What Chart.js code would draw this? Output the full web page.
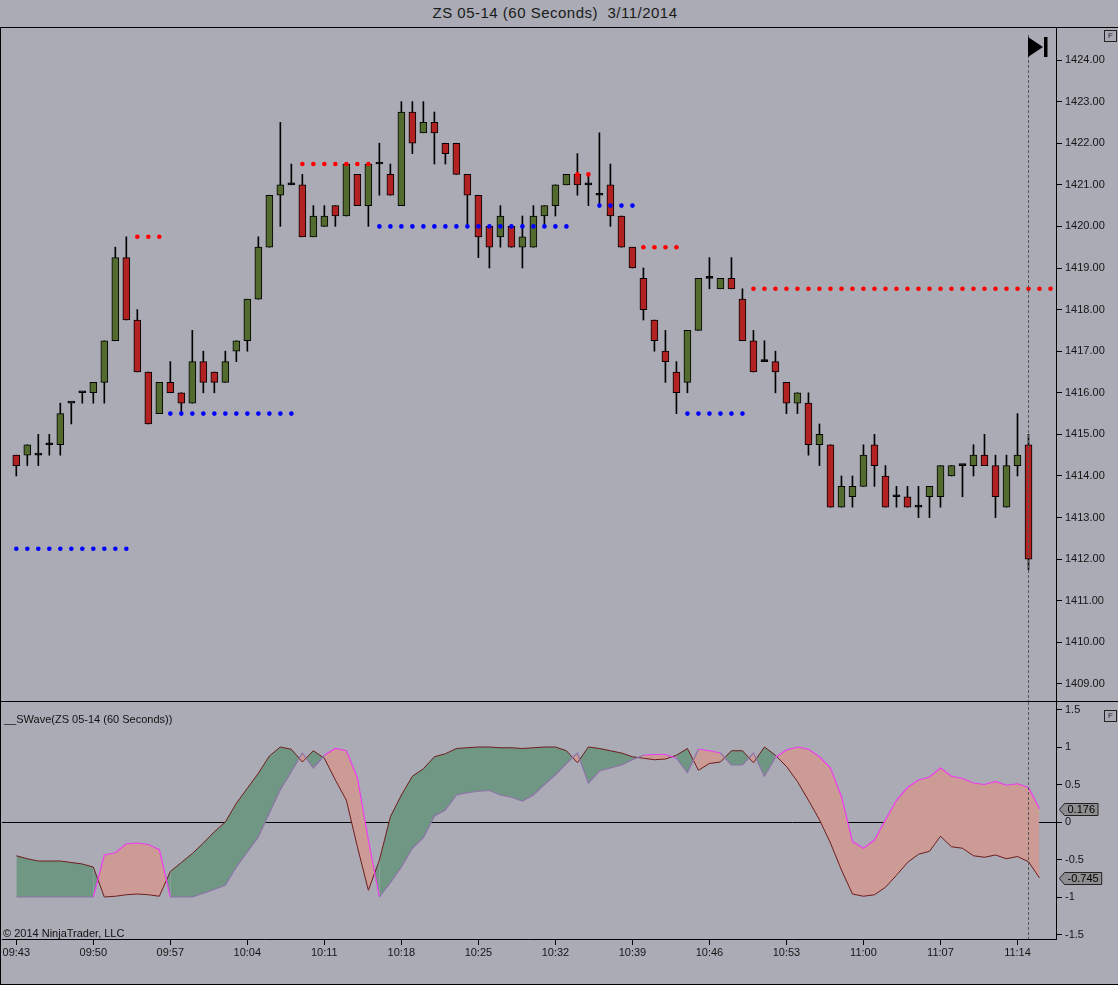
<!DOCTYPE html>
<html><head><meta charset="utf-8">
<script src="https://cdn.jsdelivr.net/npm/chart.js@4.4.1/dist/chart.umd.min.js"></script>
<style>
 html,body{margin:0;padding:0;}
 body{width:1118px;height:985px;background:#aaabb5;position:relative;overflow:hidden;font-family:"Liberation Sans",Arial,sans-serif;}
 .abs{position:absolute;}
 #title{left:0;top:4px;width:1110px;text-align:center;font-size:15px;letter-spacing:0.5px;color:#1a1a1a;white-space:pre;}
 #frame{left:0;top:27px;width:1118px;height:958px;border-left:1px solid #000;border-top:1px solid #000;border-bottom:1px solid #000;box-sizing:border-box;}
 #sep{left:0;top:701px;width:1118px;height:1px;background:#000;}
 .fbox{width:11px;height:10px;border:1px solid #222;font-size:8px;line-height:10px;text-align:center;color:#222;}
 .lbl{font-size:11px;color:#111;white-space:pre;}
</style></head><body>
<div id="title" class="abs">ZS 05-14 (60 Seconds)  3/11/2014</div>
<div id="frame" class="abs"></div>
<canvas id="c1" class="abs" style="left:0;top:27px;width:1118px;height:675px" width="1118" height="675"></canvas>
<canvas id="c2" class="abs" style="left:0;top:701px;width:1118px;height:284px" width="1118" height="284"></canvas>
<div id="sep" class="abs"></div>
<div class="abs fbox" style="left:1104px;top:30px">F</div>
<div class="abs fbox" style="left:1104px;top:710px">F</div>
<div class="abs lbl" style="left:4px;top:713px">__SWave(ZS 05-14 (60 Seconds))</div>
<div class="abs lbl" style="left:3px;top:927px">© 2014 NinjaTrader, LLC</div>
<script>
// ---- Data ----
const opens  = [1414.5,1414.5,1414.5,1414.75,1414.75,1415.75,1416,1416,1416.25,1417.25,1419.25,1417.75,1416.5,1415.5,1416.25,1416,1415.75,1416.75,1416.5,1416.25,1417,1417.25,1418.25,1419.5,1420.75,1421,1421,1419.75,1420,1420.5,1420.25,1421.25,1420.5,1421.5,1421.25,1420.5,1422.75,1422.25,1422.5,1422,1422,1421.25,1420.75,1420,1419.75,1420,1419.5,1419.5,1420.25,1420.5,1421,1421.25,1421,1420.75,1421,1420.25,1419.5,1418.75,1417.75,1417,1416.5,1416.25,1417.5,1418.75,1418.5,1418.75,1418.25,1417.25,1416.75,1416.75,1416.25,1415.75,1415.75,1414.75,1414.75,1413.25,1413.5,1413.75,1414.75,1414,1413.5,1413.5,1413.25,1413.5,1413.5,1414,1414.25,1414.25,1414.5,1414.25,1413.25,1414.25,1414.75];
const highs  = [1414.5,1414.75,1415,1415,1415.75,1415.75,1416,1416.25,1417.25,1419.5,1419.75,1418,1416.5,1416.25,1416.75,1416,1417.5,1417,1416.5,1417,1417.25,1418.25,1419.75,1420.75,1422.5,1421.5,1421.25,1420.5,1420.5,1420.5,1421.5,1421.25,1421.5,1422,1421.5,1423,1423,1423,1422.75,1422,1422,1421.25,1420.75,1420,1420.5,1420,1420.25,1420.5,1420.5,1421,1421.25,1421.75,1421.25,1422.25,1421.5,1420.25,1419.5,1419,1417.75,1417.5,1416.75,1417.5,1418.75,1419.25,1418.75,1419.25,1418.5,1417.5,1417.25,1417,1416.25,1416,1416,1415.25,1414.75,1414,1414,1414.75,1415,1414.25,1413.75,1413.75,1413.75,1413.75,1414.25,1414.25,1414.25,1414.75,1415,1414.5,1414.5,1415.5,1415];
const lows   = [1414,1414.25,1414.25,1414.5,1414.5,1415.25,1415.75,1415.75,1415.75,1417.25,1417.75,1416.5,1415.25,1415.5,1416,1415.5,1415.75,1416,1416,1416.25,1416.75,1417,1418.25,1419.5,1420,1421,1419.75,1419.75,1420,1420,1420.25,1420.5,1420,1420.75,1420.75,1420.5,1421.75,1422.25,1421.5,1421.5,1421.25,1420,1419.25,1419,1419.5,1419.5,1419,1419.5,1420,1420.25,1421,1420.75,1420.5,1420.5,1420,1419.5,1419,1417.75,1417,1416.25,1415.5,1416,1417.5,1418.5,1418.5,1418.5,1417.25,1416.5,1416.75,1416,1415.5,1415.5,1414.5,1414.25,1413.25,1413.25,1413.25,1413.75,1413.75,1413.25,1413.25,1413.25,1413,1413,1413.25,1414,1413.5,1414,1414.25,1413,1413.25,1414,1411.75];
const closes = [1414.25,1414.75,1414.5,1414.75,1415.5,1415.75,1416,1416.25,1417.25,1419.25,1417.75,1416.5,1415.25,1416.25,1416,1415.75,1416.75,1416.25,1416.25,1416.75,1417.25,1418.25,1419.5,1420.75,1421,1421,1419.75,1420.25,1420.25,1420.25,1421.5,1420.5,1421.5,1421.5,1420.75,1422.75,1422,1422.5,1422.25,1421.75,1421.25,1420.75,1419.75,1419.5,1420.25,1419.5,1419.75,1420.25,1420.5,1421,1421.25,1421,1421,1420.75,1420.25,1419.5,1419,1418,1417.25,1416.75,1416,1417.5,1418.75,1418.75,1418.75,1418.5,1417.25,1416.5,1416.75,1416.5,1415.75,1416,1414.75,1415,1413.25,1413.75,1413.75,1414.5,1414.25,1413.25,1413.5,1413.25,1413.25,1413.75,1414.25,1414.25,1414.25,1414.5,1414.25,1413.5,1414.25,1414.5,1412];

const resLevels = [1419.75, 1421.5, 1421.25, 1419.5, 1418.5];
const resStart  = [11, 26, 51, 57, 67];
const resEnd    = [13, 32, 52, 60, 94];
const supLevels = [1412.25, 1415.5, 1420, 1420.5, 1415.5];
const supStart  = [0, 14, 33, 53, 61];
const supEnd    = [10, 25, 50, 56, 66];

const waveFast = [-0.45,-0.49,-0.52,-0.52,-0.52,-0.54,-0.56,-0.60,-1.0,-0.99,
 -0.97,-0.96,-0.97,-0.99,-0.66,-0.54,-0.42,-0.28,-0.13,0.0,
 0.25,0.45,0.65,0.88,1.0,0.97,0.80,0.95,0.85,0.56,
 0.29,-0.33,-0.91,-0.51,0.07,0.36,0.61,0.71,0.87,0.91,
 0.98,0.99,1.0,1.0,0.99,0.99,0.98,0.99,1.0,1.0,
 0.95,0.79,1.0,0.98,0.95,0.92,0.87,0.85,0.83,0.84,
 0.89,0.98,0.69,0.78,0.80,0.95,0.95,0.79,1.0,0.89,
 0.74,0.54,0.29,0.03,-0.28,-0.64,-0.96,-0.99,-0.97,-0.87,
 -0.71,-0.54,-0.43,-0.39,-0.19,-0.33,-0.35,-0.45,-0.47,-0.44,
 -0.49,-0.46,-0.53,-0.745];
const waveSlow = [-1,-1,-1,-1,-1,-1,-1,-1,-0.44,-0.41,
 -0.29,-0.28,-0.30,-0.37,-1,-1,-1,-0.95,-0.90,-0.84,
 -0.6,-0.4,-0.2,0.12,0.43,0.67,0.92,0.72,0.89,0.98,
 0.95,0.59,-0.24,-1.0,-0.81,-0.6,-0.35,-0.21,0.08,0.16,
 0.36,0.39,0.41,0.42,0.36,0.33,0.28,0.36,0.5,0.63,
 0.78,0.92,0.52,0.68,0.72,0.76,0.83,0.89,0.90,0.90,
 0.85,0.66,0.97,0.95,0.92,0.76,0.76,0.92,0.61,0.86,
 0.96,1.0,0.97,0.87,0.72,0.34,-0.26,-0.35,-0.24,0.03,
 0.29,0.46,0.56,0.6,0.72,0.61,0.58,0.52,0.50,0.54,
 0.49,0.51,0.46,0.176];

const timeTickIdx = [0,7,14,21,28,35,42,49,56,63,70,77,84,91];
const timeLabels  = ['09:43','09:50','09:57','10:04','10:11','10:18','10:25','10:32','10:39','10:46','10:53','11:00','11:07','11:14'];
const priceTicks  = [1409,1410,1411,1412,1413,1414,1415,1416,1417,1418,1419,1420,1421,1422,1423,1424];
const waveTicks   = [1.5,1,0.5,0,-0.5,-1,-1.5];

// ---- Build ----
const FONT = "'Liberation Sans', Arial, sans-serif";
const XMIN = -1.3, XMAX = 94.5;
const lastBar = closes.length - 1;

const bodyPts = opens.map((o,i)=>({x:i, y:[o, closes[i]]}));
const wickPts = opens.map((o,i)=>({x:i, y:[lows[i], highs[i]]}));
const bodyCols = opens.map((o,i)=> closes[i]>o ? '#536b2f' : (closes[i]<o ? '#b22222' : '#000'));
function dots(levels, st, en){
  const out=[];
  levels.forEach((lv,k)=>{ for(let i=st[k];i<=en[k];i++) out.push({x:i,y:lv}); });
  return out;
}
function noPad(s){ s.paddingTop = 0; s.paddingBottom = 0; s.paddingLeft = 0; s.paddingRight = 0; }

const cursorPlugin = {
  id:'cursor',
  afterDatasetsDraw(chart, args, opts){
    const c = chart.ctx, xs = chart.scales.x, a = chart.chartArea;
    const px = Math.round(xs.getPixelForValue(lastBar)) + 0.5;
    c.save();
    c.strokeStyle = '#555'; c.lineWidth = 1; c.setLineDash([3,2]);
    c.beginPath(); c.moveTo(px, a.top + (opts.top||0)); c.lineTo(px, a.bottom); c.stroke();
    c.restore();
  }
};

const iconPlugin = {
  id:'icon',
  afterDraw(chart){
    const c = chart.ctx;
    c.save(); c.fillStyle = '#000';
    c.beginPath(); c.moveTo(1028,10); c.lineTo(1043,20); c.lineTo(1028,30); c.closePath(); c.fill();
    c.fillRect(1044,10,3.5,20);
    c.restore();
  }
};

new Chart(document.getElementById('c1'), {
  type:'line',
  data:{ datasets:[
    {type:'line', label:'Resistance', data:dots(resLevels,resStart,resEnd), showLine:false,
     pointRadius:2.3, pointBackgroundColor:'#ff0000', pointBorderWidth:0, order:-2},
    {type:'line', label:'Support', data:dots(supLevels,supStart,supEnd), showLine:false,
     pointRadius:2.3, pointBackgroundColor:'#0000ff', pointBorderWidth:0, order:-1},
    {type:'bar', label:'Body', data:bodyPts, backgroundColor:bodyCols, borderColor:'#000', borderWidth:1,
     borderSkipped:false, barThickness:7, minBarLength:2, grouped:false, order:0},
    {type:'bar', label:'Wick', data:wickPts, backgroundColor:'#000', borderWidth:0,
     barThickness:1, grouped:false, order:1}
  ]},
  options:{
    responsive:false, animation:false, events:[],
    layout:{autoPadding:false, padding:{left:2, top:1, right:0, bottom:1}},
    plugins:{legend:{display:false}, tooltip:{enabled:false}, cursor:{top:7}},
    scales:{
      x:{type:'linear', min:XMIN, max:XMAX, display:false, offset:false, grid:{offset:false}},
      y:{type:'linear', position:'right', min:1408.59, max:1424.77, beginAtZero:false,
         afterBuildTicks:s=>{ s.ticks = priceTicks.map(v=>({value:v})); },
         afterFit:s=>{ s.width = 62; noPad(s); },
         ticks:{callback:v=>Number(v).toFixed(2), font:{size:11, family:FONT}, color:'#151515', padding:3},
         grid:{drawOnChartArea:false, color:'#000', tickLength:6},
         border:{display:true, color:'#000'}}
    }
  },
  plugins:[cursorPlugin, iconPlugin]
});

const valueBoxPlugin = {
  id:'valbox',
  afterDraw(chart){
    const c = chart.ctx, ys = chart.scales.y;
    const vals = [waveSlow[waveSlow.length-1], waveFast[waveFast.length-1]];
    c.save();
    c.font = '11px ' + FONT;
    vals.forEach(v=>{
      const y = Math.round(ys.getPixelForValue(v)) + 0.5;
      const t = v.toFixed(3);
      const w = c.measureText(t).width + 6;
      const x0 = 1059.5, h = 12;
      c.beginPath();
      c.moveTo(x0, y); c.lineTo(x0+5, y-h/2); c.lineTo(x0+5+w, y-h/2);
      c.lineTo(x0+5+w, y+h/2); c.lineTo(x0+5, y+h/2); c.closePath();
      c.fillStyle = '#8e8e90'; c.fill();
      c.strokeStyle = '#222'; c.lineWidth = 1; c.stroke();
      c.fillStyle = '#000'; c.textBaseline = 'middle'; c.textAlign = 'left';
      c.fillText(t, x0+8, y+0.5);
    });
    c.restore();
  }
};

const ptsFast = waveFast.map((v,i)=>({x:i,y:v}));
const ptsSlow = waveSlow.map((v,i)=>({x:i,y:v}));

new Chart(document.getElementById('c2'), {
  type:'line',
  data:{ datasets:[
    {label:'Fast', data:ptsFast, borderColor:'#6e1c1c', borderWidth:1, pointRadius:0, tension:0,
     fill:{target:1, above:'#6f9783', below:'#cd9b95'}, order:1},
    {label:'Slow', data:ptsSlow, borderWidth:1.2, pointRadius:0, tension:0, fill:false, order:0,
     segment:{borderColor:ctx=>{
       const i = ctx.p0DataIndex, j = ctx.p1DataIndex;
       return (waveSlow[i]+waveSlow[j]) > (waveFast[i]+waveFast[j]) ? '#f03cf0' : '#8c72a8';
     }}}
  ]},
  options:{
    responsive:false, animation:false, events:[],
    layout:{autoPadding:false, padding:{left:2, top:1, right:0, bottom:0}},
    plugins:{legend:{display:false}, tooltip:{enabled:false}, cursor:{top:0}},
    scales:{
      x:{type:'linear', min:XMIN, max:XMAX, offset:false,
         afterBuildTicks:s=>{ s.ticks = timeTickIdx.map(v=>({value:v})); },
         afterFit:s=>{ s.height = 46; noPad(s); },
         ticks:{callback:v=>timeLabels[timeTickIdx.indexOf(v)], autoSkip:false, maxRotation:0,
                font:{size:11, family:FONT}, color:'#151515', padding:1},
         grid:{drawOnChartArea:false, color:'#000', tickLength:6, offset:false},
         border:{display:true, color:'#000'}},
      y:{type:'linear', position:'right', min:-1.56, max:1.6,
         afterBuildTicks:s=>{ s.ticks = waveTicks.map(v=>({value:v})); },
         afterFit:s=>{ s.width = 62; noPad(s); },
         ticks:{callback:v=>String(v), font:{size:11, family:FONT}, color:'#151515', padding:3},
         grid:{drawOnChartArea:true, color:ctx=> (ctx.tick && ctx.tick.value===0) ? '#000' : 'rgba(0,0,0,0)',
               tickColor:'#000', tickLength:6},
         border:{display:true, color:'#000'}}
    }
  },
  plugins:[cursorPlugin, valueBoxPlugin]
});
</script>
</body></html>
